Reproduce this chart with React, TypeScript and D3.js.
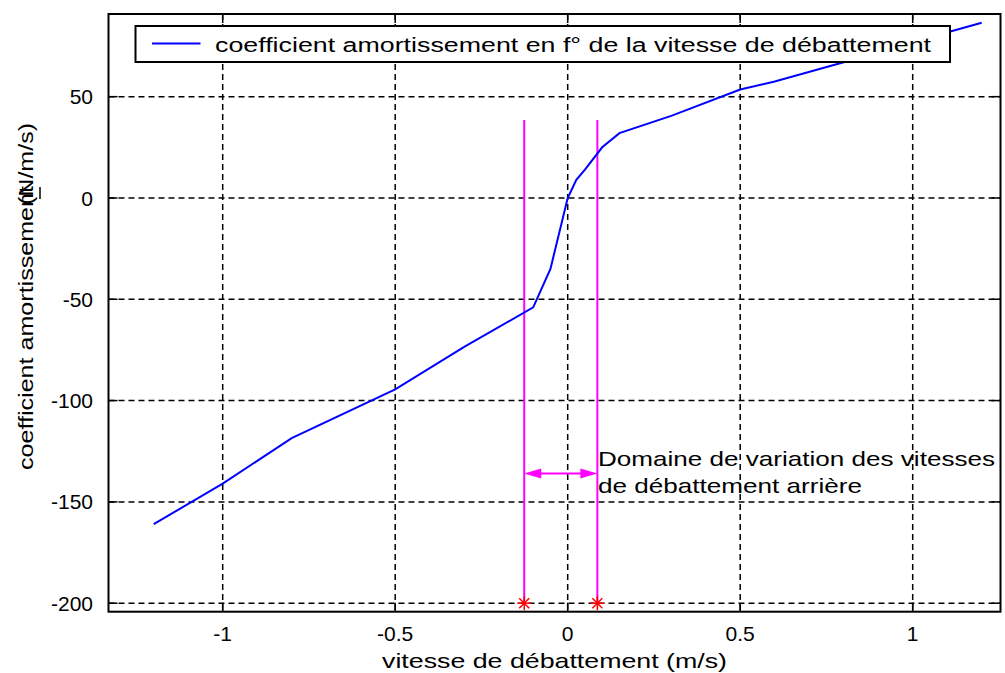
import React from "react";
import * as d3 from "d3";

// ---- data ----
const vitesse = [-1.2, -1, -0.8, -0.5, -0.3, -0.1, -0.05, 0, 0.025, 0.05, 0.1, 0.15, 0.3, 0.5, 0.6, 0.8, 1.0, 1.2];
const coefficient = [-161, -141, -118.5, -94.5, -73.5, -54, -35, 0, 9, 14, 25, 32, 40.5, 53.5, 57.5, 67, 77, 86.5];
const domaineBornes = [-0.126, 0.086]; // vertical magenta lines (m/s)
const domaineHaut = 38.5;
const domaineBas = -200;
const flecheNiveau = -136;
const xTicks = [-1, -0.5, 0, 0.5, 1];
const yTicks = [-200, -150, -100, -50, 0, 50];
const xTickLabels = ["-1", "-0.5", "0", "0.5", "1"];
const yTickLabels = ["-200", "-150", "-100", "-50", "0", "50"];
const legendLabel = "coefficient amortissement en f° de la vitesse de débattement";
const xLabel = "vitesse de débattement (m/s)";
const yLabelA = "coefficient amortissement";
const yLabelB = "(N/m/s)";
const annotation = ["Domaine de variation des vitesses", "de débattement arrière"];

const W = 1005;
const H = 673;
const L = 108.5, R = 1000.5, T = 14, B = 611.7;
const FONT = "'Liberation Sans', Arial, Helvetica, sans-serif";

export default function App() {
  const x = d3.scaleLinear().domain([-1.331, 1.2545]).range([L, R]);
  const y = d3.scaleLinear().domain([-204.2, 90.8]).range([B, T]);
  const line = d3
    .line<number>()
    .x((_, i) => x(vitesse[i]))
    .y((d) => y(d));
  const tick = 9;
  const ay = y(flecheNiveau);
  const xl = x(domaineBornes[0]);
  const xr = x(domaineBornes[1]);
  const head = 17;
  const hw = 5;

  const star = (cx: number, cy: number, k: number) => (
    <g key={"s" + k} stroke="#ff0000" strokeWidth={1.5}>
      <line x1={cx - 7} y1={cy} x2={cx + 7} y2={cy} />
      <line x1={cx} y1={cy - 7} x2={cx} y2={cy + 7} />
      <line x1={cx - 5} y1={cy - 5} x2={cx + 5} y2={cy + 5} />
      <line x1={cx - 5} y1={cy + 5} x2={cx + 5} y2={cy - 5} />
    </g>
  );

  return (
    <svg
      width={W}
      height={H}
      style={{ position: "absolute", left: 0, top: 0, background: "#fff" }}
      fontFamily={FONT}
    >
      <rect x={0} y={0} width={W} height={H} fill="#fff" />
      {/* grid */}
      <g stroke="#000" strokeWidth={1.5} strokeDasharray="6,4">
        {xTicks.map((t) => (
          <line key={"gx" + t} x1={x(t)} x2={x(t)} y1={T} y2={B} />
        ))}
        {yTicks.map((t) => (
          <line key={"gy" + t} x1={L} x2={R} y1={y(t)} y2={y(t)} />
        ))}
      </g>
      {/* inner ticks */}
      <g stroke="#000" strokeWidth={1.5}>
        {xTicks.map((t) => (
          <g key={"tx" + t}>
            <line x1={x(t)} x2={x(t)} y1={B} y2={B - tick} />
            <line x1={x(t)} x2={x(t)} y1={T} y2={T + tick} />
          </g>
        ))}
        {yTicks.map((t) => (
          <g key={"ty" + t}>
            <line x1={L} x2={L + tick} y1={y(t)} y2={y(t)} />
            <line x1={R} x2={R - tick} y1={y(t)} y2={y(t)} />
          </g>
        ))}
      </g>
      {/* magenta domain lines */}
      <g stroke="#ff00ff" strokeWidth={2}>
        {domaineBornes.map((b) => (
          <line key={"m" + b} x1={x(b)} x2={x(b)} y1={y(domaineHaut)} y2={y(domaineBas)} />
        ))}
        <line x1={xl + head - 2} x2={xr - head + 2} y1={ay} y2={ay} />
      </g>
      <path d={`M${xl},${ay} L${xl + head},${ay - hw} L${xl + head},${ay + hw} Z`} fill="#ff00ff" />
      <path d={`M${xr},${ay} L${xr - head},${ay - hw} L${xr - head},${ay + hw} Z`} fill="#ff00ff" />
      {/* curve */}
      <path d={line(coefficient) || ""} fill="none" stroke="#0000ff" strokeWidth={2} />
      {/* stars */}
      {domaineBornes.map((b, i) => star(x(b), y(domaineBas), i))}
      {/* legend */}
      <rect x={135.5} y={26} width={814.5} height={36} fill="#fff" stroke="#000" strokeWidth={2} />
      <line x1={152} x2={200.5} y1={43.5} y2={43.5} stroke="#0000ff" strokeWidth={2} />
      <text x={215} y={51.5} fontSize={20} textLength={716} lengthAdjust="spacingAndGlyphs">
        {legendLabel}
      </text>
      {/* axes box */}
      <rect x={L} y={T} width={R - L} height={B - T} fill="none" stroke="#000" strokeWidth={2} />
      {/* tick labels */}
      <g fontSize={21} fill="#000">
        {xTicks.map((t, i) => (
          <text key={"lx" + t} x={x(t)} y={641} textAnchor="middle">
            {xTickLabels[i]}
          </text>
        ))}
        {yTicks.map((t, i) => (
          <text key={"ly" + t} x={93} y={y(t)} dy="0.36em" textAnchor="end">
            {yTickLabels[i]}
          </text>
        ))}
      </g>
      {/* axis labels */}
      <text x={382} y={668} fontSize={21} textLength={345} lengthAdjust="spacingAndGlyphs">
        {xLabel}
      </text>
      <text transform="translate(33,470) rotate(-90)" fontSize={21} textLength={284} lengthAdjust="spacingAndGlyphs">
        {yLabelA}
      </text>
      <text transform="translate(33,205) rotate(-90)" fontSize={21} textLength={82} lengthAdjust="spacingAndGlyphs">
        {yLabelB}
      </text>
      <line x1={40} x2={40} y1={187} y2={199} stroke="#000" strokeWidth={1.5} />
      {/* annotation */}
      <text x={598} y={465.7} fontSize={21} textLength={397} lengthAdjust="spacingAndGlyphs">
        {annotation[0]}
      </text>
      <text x={598} y={492.7} fontSize={21} textLength={264} lengthAdjust="spacingAndGlyphs">
        {annotation[1]}
      </text>
    </svg>
  );
}
